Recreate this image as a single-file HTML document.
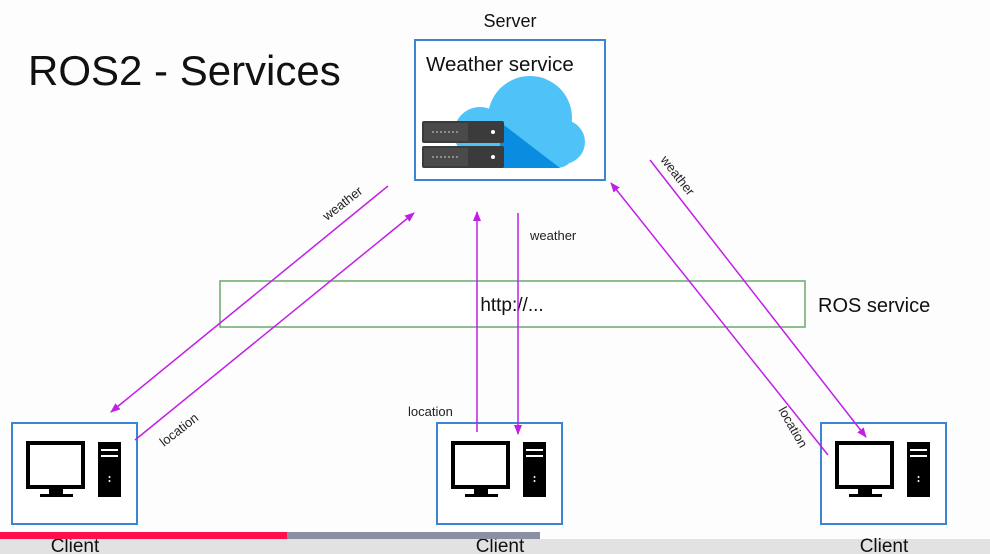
<!DOCTYPE html>
<html><head><meta charset="utf-8"><style>
html,body{margin:0;padding:0;background:#fff;}
body{width:990px;height:554px;overflow:hidden;position:relative;font-family:"Liberation Sans",Arial,sans-serif;}
</style></head><body>
<svg width="990" height="554" viewBox="0 0 990 554" xmlns="http://www.w3.org/2000/svg" style="position:absolute;left:0;top:0">
<defs>
<marker id="a" markerWidth="10" markerHeight="8" refX="9" refY="4" orient="auto" markerUnits="userSpaceOnUse">
<path d="M0,0 L10,4 L0,8 z" fill="#c21ee8"/></marker>
</defs>
<rect width="990" height="554" fill="#fdfdfd"/>
<text x="28" y="85" font-size="42" fill="#111">ROS2 - Services</text>
<text x="510" y="27" font-size="18" text-anchor="middle" fill="#111">Server</text>
<rect x="415" y="40" width="190" height="140" fill="#fff" stroke="#3a85d6" stroke-width="2"/>
<text x="426" y="71" font-size="20.5" fill="#111">Weather service</text>
<g>
<circle cx="530" cy="118" r="42" fill="#4fc3f7"/>
<circle cx="480" cy="133" r="26" fill="#4fc3f7"/>
<circle cx="563" cy="142" r="22" fill="#4fc3f7"/>
<rect x="470" y="130" width="105" height="38" rx="18" fill="#4fc3f7"/>
<path d="M500,122 L560,168 L500,168 z" fill="#0a8de0"/>
</g>
<rect x="422" y="121" width="82" height="22" rx="2" fill="#3b3b3b"/>
<rect x="422" y="146" width="82" height="22" rx="2" fill="#3b3b3b"/>
<rect x="424" y="123" width="44" height="18" fill="#4a4a4a"/>
<rect x="424" y="148" width="44" height="18" fill="#4a4a4a"/>
<circle cx="493" cy="132" r="2" fill="#fff"/><circle cx="493" cy="157" r="2" fill="#fff"/>
<line x1="432" y1="132" x2="460" y2="132" stroke="#ccc" stroke-dasharray="2,2"/>
<line x1="432" y1="157" x2="460" y2="157" stroke="#ccc" stroke-dasharray="2,2"/>
<rect x="220" y="281" width="585" height="46" fill="#fff" stroke="#6aa86a" stroke-width="1.5"/>
<text x="512" y="311" font-size="19" text-anchor="middle" fill="#111">http://...</text>
<text x="818" y="312" font-size="20" fill="#111">ROS service</text>
<g id="c">
<rect x="12" y="423" width="125" height="101" fill="#fff" stroke="#3a85d6" stroke-width="2"/>
<rect x="28" y="443" width="55" height="44" fill="none" stroke="#000" stroke-width="4"/>
<rect x="49" y="489" width="14" height="5" fill="#000"/>
<rect x="40" y="494" width="33" height="3" fill="#000"/>
<rect x="98" y="442" width="23" height="55" fill="#000"/>
<rect x="101" y="449" width="17" height="2" fill="#fff"/>
<rect x="101" y="455" width="17" height="2" fill="#fff"/>
<circle cx="109.5" cy="477" r="1" fill="#fff"/><circle cx="109.5" cy="481" r="1" fill="#fff"/>
</g>
<use href="#c" x="425"/>
<use href="#c" x="809"/>
<g stroke="#c21ee8" stroke-width="1.5" fill="none">
<line x1="388" y1="186" x2="111" y2="412" marker-end="url(#a)"/>
<line x1="135" y1="440" x2="414" y2="213" marker-end="url(#a)"/>
<line x1="477" y1="432" x2="477" y2="212" marker-end="url(#a)"/>
<line x1="518" y1="213" x2="518" y2="434" marker-end="url(#a)"/>
<line x1="828" y1="455" x2="611" y2="183" marker-end="url(#a)"/>
<line x1="650" y1="160" x2="866" y2="437" marker-end="url(#a)"/>
</g>
<g font-size="13" fill="#222">
<text transform="translate(327,221) rotate(-38)">weather</text>
<text transform="translate(164,447) rotate(-38)">location</text>
<text x="530" y="240">weather</text>
<text x="408" y="416">location</text>
<text transform="translate(660,160) rotate(52)">weather</text>
<text transform="translate(778,410) rotate(60)">location</text>
</g>
<rect x="0" y="539" width="990" height="15" fill="#e2e2e2"/>
<g font-size="19" fill="#111" text-anchor="middle">
<text x="75" y="552">Client</text><text x="500" y="552">Client</text><text x="884" y="552">Client</text>
</g>
<rect x="0" y="532" width="287" height="7" fill="#ff0f4b"/>
<rect x="287" y="532" width="253" height="7" fill="#8a8fa4"/>
</svg>
</body></html>
